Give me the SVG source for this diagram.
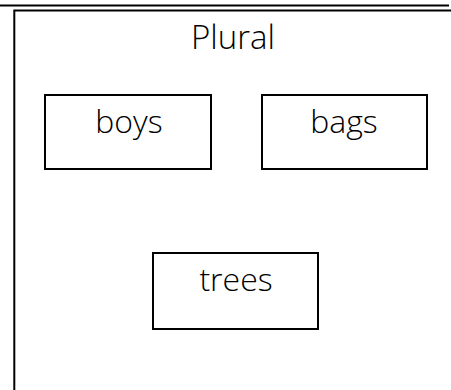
<svg xmlns="http://www.w3.org/2000/svg" width="451" height="390" viewBox="0 0 451 390">
<style>
.box{fill:#fff;stroke:#000;stroke-width:2}
.ln{stroke:#000;stroke-width:2;fill:none}
text{font-family:"Open Sans","Liberation Sans",sans-serif;font-weight:300;fill:#000;text-anchor:middle}
.t{font-size:33px}
.n{font-size:32px}
</style>
<rect width="451" height="390" fill="#fff"/>
<g id="frame">
<line class="ln" x1="0" y1="5.5" x2="449" y2="5.5"/>
<polyline class="ln" points="451,10.5 14.3,10.5 14.3,390"/>
<text class="t" x="233" y="49">Plural</text>
</g>
<g id="boys">
<rect class="box" x="45" y="95" width="166" height="74"/>
<text class="n" x="129" y="133">boys</text>
</g>
<g id="bags">
<rect class="box" x="262" y="95" width="165" height="74"/>
<text class="n" x="344" y="133">bags</text>
</g>
<g id="trees">
<rect class="box" x="153" y="253" width="165" height="76"/>
<text class="n" x="236" y="291">trees</text>
</g>
<g id="connectors"></g>
</svg>
